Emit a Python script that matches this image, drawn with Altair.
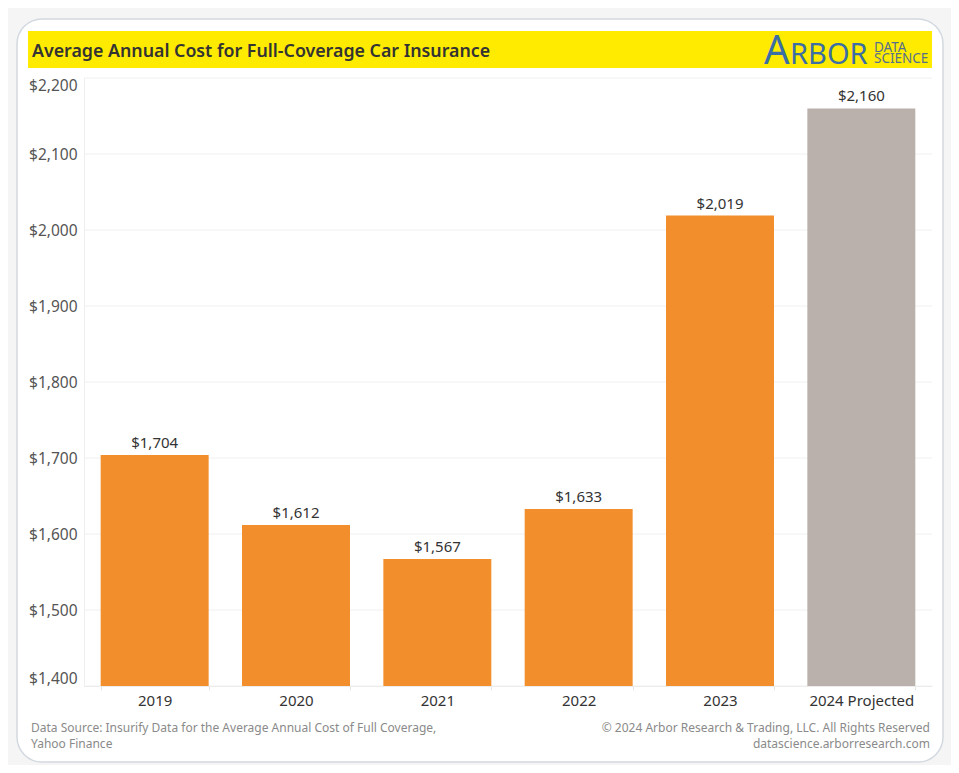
import altair as alt
import pandas as pd

# ---- data ----
years = ["2019", "2020", "2021", "2022", "2023", "2024 Projected"]
costs = [1704, 1612, 1567, 1633, 2019, 2160]
kinds = ["Actual", "Actual", "Actual", "Actual", "Actual", "Projected"]
y_ticks = [1400, 1500, 1600, 1700, 1800, 1900, 2000, 2100, 2200]

title_text = "Average Annual Cost for Full-Coverage Car Insurance"
source_lines = ["Data Source: Insurify Data for the Average Annual Cost of Full Coverage,",
                "Yahoo Finance"]
rights_lines = ["\u00a9 2024 Arbor Research & Trading, LLC. All Rights Reserved",
                "datascience.arborresearch.com"]
logo_big = ["A", "RBOR"]
logo_small = ["DATA", "SCIENCE"]

FONT = "Noto Sans"

df = pd.DataFrame({"year": years, "cost": costs, "kind": kinds})
grid_df = pd.DataFrame({"v": y_ticks})
one = pd.DataFrame({"k": [0]})

x_enc = alt.X("year:N", sort=years, title=None,
              scale=alt.Scale(paddingInner=0.236, paddingOuter=0.118),
              axis=alt.Axis(labelAngle=0, labelFontSize=15, labelColor="#333333",
                            labelFont=FONT, labelPadding=3, ticks=True, tickBand="extent",
                            tickSize=4, tickColor="#e6e6e6", domainColor="#ececec",
                            grid=False, zindex=1))
y_scale = alt.Scale(domain=[1400, 2200], zero=False, nice=False)
y_enc = alt.Y("cost:Q", scale=y_scale, title=None,
              axis=alt.Axis(values=y_ticks, format="$,.0f", labelFontSize=15.5,
                            labelColor="#555555", labelFont=FONT, ticks=False,
                            labelPadding=7, labelFlush=True, grid=False,
                            domainColor="#eeeeee", zindex=1))

card = alt.Chart(one).mark_rect(fill="white", stroke="#d3d9e0", strokeWidth=1.5,
                                cornerRadius=25).encode(
    x=alt.value(-67), x2=alt.value(859), y=alt.value(-59), y2=alt.value(684))

band = alt.Chart(one).mark_rect(fill="#FFEB00").encode(
    x=alt.value(-56), x2=alt.value(848), y=alt.value(-47), y2=alt.value(-10))

grid = alt.Chart(grid_df).mark_rule(color="#f0f0f0", strokeWidth=1).encode(
    y=alt.Y("v:Q", scale=y_scale))

bars = alt.Chart(df).mark_bar().encode(
    x=x_enc, y=y_enc, y2=alt.datum(1400),
    color=alt.Color("kind:N", legend=None,
                    scale=alt.Scale(domain=["Actual", "Projected"],
                                    range=["#F28E2B", "#BAB0AC"])))

labels = alt.Chart(df).mark_text(baseline="alphabetic", dy=-7, fontSize=15, font=FONT,
                                 color="#333333").encode(
    x=alt.X("year:N", sort=years), y=alt.Y("cost:Q", scale=y_scale),
    text=alt.Text("cost:Q", format="$,.0f"))

title = alt.Chart(one).mark_text(text=title_text, align="left", baseline="alphabetic",
                                 fontSize=17.8, fontWeight=600, font=FONT,
                                 color="#333333").encode(
    x=alt.value(-52), y=alt.value(-21))

logo_a = alt.Chart(one).mark_text(text=logo_big[0], align="left", baseline="alphabetic",
                                  fontSize=40, font=FONT, color="#3A6EA5").encode(
    x=alt.value(680), y=alt.value(-14))
logo_r = alt.Chart(one).mark_text(text=logo_big[1], align="left", baseline="alphabetic",
                                  fontSize=29, font=FONT, color="#3A6EA5").encode(
    x=alt.value(706), y=alt.value(-14))
logo_ds = alt.Chart(one).mark_text(text=logo_small, align="left", baseline="alphabetic",
                                   fontSize=13.5, lineHeight=11, font=FONT,
                                   color="#56708C").encode(
    x=alt.value(790), y=alt.value(-26))

src1 = alt.Chart(one).mark_text(text=source_lines[0], align="left", baseline="middle",
                                fontSize=12, font=FONT, color="#8a8a8a").encode(
    x=alt.value(-53), y=alt.value(650))
src2 = alt.Chart(one).mark_text(text=source_lines[1], align="left", baseline="middle",
                                fontSize=12, font=FONT, color="#8a8a8a").encode(
    x=alt.value(-53), y=alt.value(666))
rt1 = alt.Chart(one).mark_text(text=rights_lines[0], align="right", baseline="middle",
                               fontSize=12, font=FONT, color="#8a8a8a").encode(
    x=alt.value(846), y=alt.value(650))
rt2 = alt.Chart(one).mark_text(text=rights_lines[1], align="right", baseline="middle",
                               fontSize=12, font=FONT, color="#8a8a8a").encode(
    x=alt.value(846), y=alt.value(666))

chart = alt.layer(card, band, grid, bars, labels, title, logo_a, logo_r, logo_ds,
                  src1, src2, rt1, rt2).properties(
    width=848, height=608,
    padding={"left": 76, "top": 70, "right": 19, "bottom": 79},
    autosize=alt.AutoSizeParams(type="none"),
    background="#f5f5f5",
).configure_view(stroke=None)

chart.save("out.html", embed_options={"renderer": "svg", "actions": False})
